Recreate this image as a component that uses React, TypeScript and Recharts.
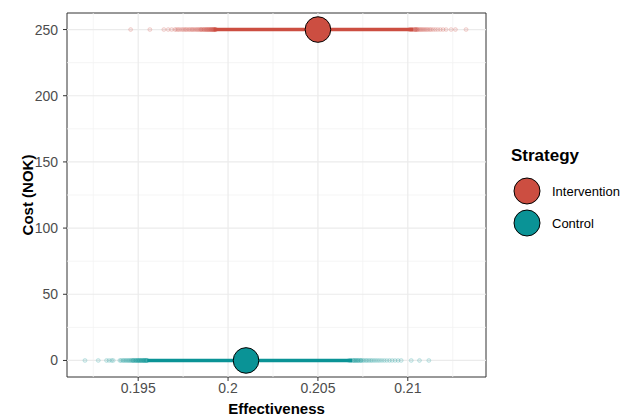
import React from "react";
import {
  ComposedChart,
  Scatter,
  XAxis,
  YAxis,
  ReferenceLine,
  ReferenceArea,
} from "recharts";

// ---- Data ----
const strategies = ["Intervention", "Control"];
const strategyColors = ["#CC4E41", "#0A9396"];

const interventionCost = 250;
const controlCost = 0;

// mean points
const interventionMean = [{ x: 0.205, y: 250 }];
const controlMean = [{ x: 0.201, y: 0 }];

// dense core of the simulation cloud (start / end effectiveness)
const interventionCoreRange = [0.1992, 0.2103];
const controlCoreRange = [0.1955, 0.2069];

// individual (sparse) simulation points - effectiveness
const interventionSims = [
  0.19458, 0.19565, 0.19643, 0.19667, 0.19686, 0.19704, 0.19713, 0.19722,
  0.1973, 0.19741, 0.19749, 0.19758, 0.19765, 0.19772, 0.19781, 0.19788,
  0.19796, 0.19802, 0.19809, 0.19816, 0.19823, 0.19829, 0.19836, 0.19842,
  0.19848, 0.19855, 0.19861, 0.19868, 0.19874, 0.1988, 0.19886, 0.19892,
  0.19897, 0.19903, 0.19909, 0.19914, 0.1992, 0.19925, 0.1993,
  0.19851, 0.19866, 0.19879, 0.19889, 0.19899, 0.19906, 0.19912, 0.19918,
  0.19923, 0.19928, 0.19933,
  0.21009, 0.21015, 0.21021, 0.21027, 0.21033, 0.21039, 0.21044, 0.21051,
  0.2104, 0.21046, 0.21053, 0.21058, 0.21065, 0.21071, 0.21078, 0.21084,
  0.21091, 0.21099, 0.21106, 0.21114, 0.21123, 0.21131, 0.21142, 0.21154,
  0.21167, 0.21181, 0.21196, 0.21213, 0.21241, 0.21265, 0.21324,
];
const controlSims = [
  0.19204, 0.19278, 0.19324, 0.19338, 0.19352, 0.19361, 0.19398, 0.19405,
  0.19414, 0.1942, 0.19427, 0.19433, 0.1944, 0.19446, 0.19452, 0.19458,
  0.19463, 0.19469, 0.19474, 0.19479, 0.19484, 0.19489, 0.19494, 0.19499,
  0.19503, 0.19508, 0.19513, 0.19518, 0.19523, 0.19528, 0.19533, 0.19538,
  0.19543, 0.19548,
  0.19471, 0.19486, 0.19497, 0.19507, 0.19516, 0.19525, 0.19531, 0.19537,
  0.19542, 0.19547, 0.19551,
  0.20672, 0.20679, 0.20686, 0.20693, 0.20699, 0.20711, 0.20724, 0.20738,
  0.207, 0.20706, 0.20713, 0.2072, 0.20727, 0.20735, 0.20742, 0.2075,
  0.20758, 0.20767, 0.20775, 0.20784, 0.20793, 0.20802, 0.20812, 0.20822,
  0.20833, 0.20844, 0.20856, 0.20869, 0.20883, 0.20898, 0.20913, 0.20929,
  0.20946, 0.20963, 0.21019, 0.21065, 0.21117,
];

const xTicks = [0.195, 0.2, 0.205, 0.21];
const xMinor = [0.1925, 0.1975, 0.2025, 0.2075, 0.2125];
const yTicks = [0, 50, 100, 150, 200, 250];
const yMinor = [25, 75, 125, 175, 225];
const xDomain = [0.19104, 0.21435];
const yDomain = [-12.5, 262.5];

// ---- Derived tables ----
const interventionSimData = interventionSims.map((x) => ({ x, y: interventionCost }));
const controlSimData = controlSims.map((x) => ({ x, y: controlCost }));
const interventionCore = interventionCoreRange.map((x) => ({ x, y: interventionCost }));
const controlCore = controlCoreRange.map((x) => ({ x, y: controlCost }));

const FONT = "'Liberation Sans', Arial, sans-serif";

const simShape = (color: string) => (props: any) => (
  <circle
    cx={props.cx}
    cy={props.cy}
    r={2}
    fill={color}
    fillOpacity={0.12}
    stroke={color}
    strokeOpacity={0.3}
    strokeWidth={0.6}
  />
);

const meanShape = (color: string) => (props: any) => (
  <circle cx={props.cx} cy={props.cy} r={12.8} fill={color} stroke="#000" strokeWidth={1} />
);

const noShape = () => <g />;

export default function App() {
  return (
    <div style={{ position: "absolute", left: 0, top: 0, width: 630, height: 416, background: "#fff" }}>
      <ComposedChart
        width={630}
        height={416}
        margin={{ top: 13, right: 144, bottom: 0, left: 0 }}
        style={{ fontFamily: FONT }}
      >
        <XAxis
          type="number"
          dataKey="x"
          domain={xDomain}
          ticks={xTicks}
          allowDataOverflow
          axisLine={false}
          tickSize={4}
          tickMargin={2}
          tickLine={{ stroke: "#333" }}
          tick={{ fill: "#4D4D4D", fontSize: 14, fontFamily: FONT }}
          height={39}
          label={{
            value: "Effectiveness",
            position: "insideBottom",
            offset: 2,
            style: { fontWeight: "bold", fontSize: 15, fill: "#000", fontFamily: FONT },
          }}
        />
        <YAxis
          type="number"
          dataKey="y"
          domain={yDomain}
          ticks={yTicks}
          allowDataOverflow
          axisLine={false}
          tickSize={4}
          tickMargin={5}
          tickLine={{ stroke: "#333" }}
          tick={{ fill: "#4D4D4D", fontSize: 14, fontFamily: FONT }}
          width={67}
          label={{
            value: "Cost (NOK)",
            angle: -90,
            position: "center",
            dx: -6,
            style: { fontWeight: "bold", fontSize: 15, fill: "#000", fontFamily: FONT, textAnchor: "middle" },
          }}
        />
        {xMinor.map((v) => (
          <ReferenceLine key={"xm" + v} x={v} stroke="#F3F3F3" strokeWidth={0.8} ifOverflow="visible" />
        ))}
        {yMinor.map((v) => (
          <ReferenceLine key={"ym" + v} y={v} stroke="#F3F3F3" strokeWidth={0.8} ifOverflow="visible" />
        ))}
        {xTicks.map((v) => (
          <ReferenceLine key={"xM" + v} x={v} stroke="#EBEBEB" strokeWidth={1.2} ifOverflow="visible" />
        ))}
        {yTicks.map((v) => (
          <ReferenceLine key={"yM" + v} y={v} stroke="#EBEBEB" strokeWidth={1.2} ifOverflow="visible" />
        ))}
        <Scatter
          name="Intervention sims"
          data={interventionSimData}
          shape={simShape(strategyColors[0])}
          isAnimationActive={false}
        />
        <Scatter
          name="Control sims"
          data={controlSimData}
          shape={simShape(strategyColors[1])}
          isAnimationActive={false}
        />
        <Scatter
          name="Intervention core"
          data={interventionCore}
          shape={noShape}
          line={{ stroke: strategyColors[0], strokeWidth: 3.4 }}
          isAnimationActive={false}
        />
        <Scatter
          name="Control core"
          data={controlCore}
          shape={noShape}
          line={{ stroke: strategyColors[1], strokeWidth: 3.4 }}
          isAnimationActive={false}
        />
        <Scatter
          name={strategies[0]}
          data={interventionMean}
          shape={meanShape(strategyColors[0])}
          isAnimationActive={false}
        />
        <Scatter
          name={strategies[1]}
          data={controlMean}
          shape={meanShape(strategyColors[1])}
          isAnimationActive={false}
        />
        <ReferenceArea
          x1={xDomain[0]}
          x2={xDomain[1]}
          y1={yDomain[0]}
          y2={yDomain[1]}
          fill="none"
          fillOpacity={0}
          stroke="#333"
          strokeWidth={1}
          ifOverflow="visible"
        />
      </ComposedChart>
      <div style={{ position: "absolute", left: 511, top: 146, fontFamily: FONT }}>
        <div style={{ fontWeight: "bold", fontSize: 17, color: "#000", lineHeight: "20px" }}>Strategy</div>
        {strategies.map((s, i) => (
          <div key={s} style={{ display: "flex", alignItems: "center", height: 32, marginTop: i === 0 ? 9 : 0 }}>
            <svg width={30} height={30} style={{ marginLeft: 1 }}>
              <circle cx={15} cy={15} r={13} fill={strategyColors[i]} stroke="#000" strokeWidth={1} />
            </svg>
            <span style={{ fontSize: 13, marginLeft: 10, color: "#000" }}>{s}</span>
          </div>
        ))}
      </div>
    </div>
  );
}
